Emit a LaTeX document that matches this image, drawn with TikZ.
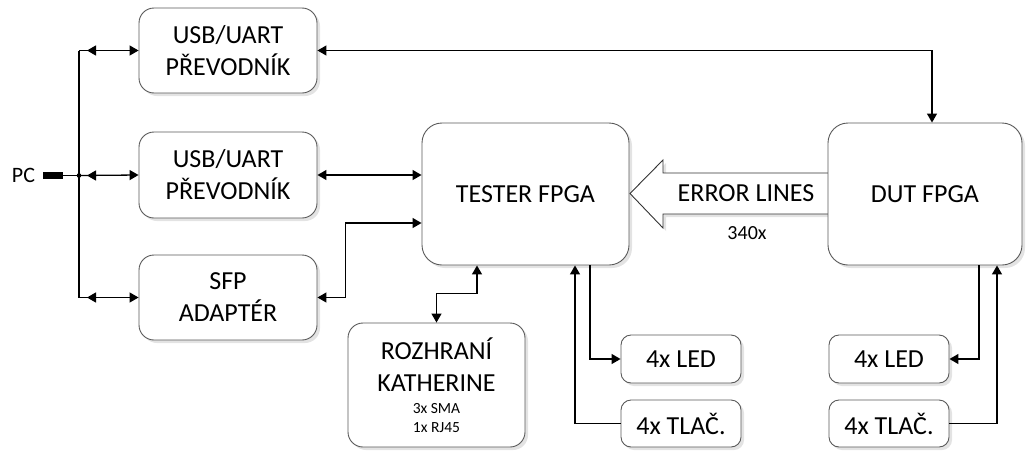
\documentclass[tikz,border=0pt]{standalone}
\usepackage{fontspec}
\setmainfont{Carlito}
\usetikzlibrary{arrows.meta,shadows,calc}
\begin{document}
\begin{tikzpicture}[x=1pt,y=-1pt,
  box/.style={draw=black!65, fill=white, rounded corners=15pt, line width=0.9pt,
    align=center, inner sep=0pt, font=\fontsize{26}{32}\selectfont,
    drop shadow={opacity=0.22, shadow xshift=3pt, shadow yshift=-3pt}},
  bigbox/.style={box, rounded corners=20pt},
  smallbox/.style={box, rounded corners=10pt},
  conn/.style={line width=1.3pt, black},
  >={Triangle[length=9pt,width=10pt]}]
\useasboundingbox (0,0) rectangle (1027,450);

% boxes
\node[box, minimum width=178pt, minimum height=85pt] (usb1) at (228,50.5) {USB/UART\\PŘEVODNÍK};
\node[box, minimum width=178pt, minimum height=86pt] (usb2) at (228,175) {USB/UART\\PŘEVODNÍK};
\node[box, minimum width=178pt, minimum height=85pt] (sfp) at (228,297.5) {SFP\\ADAPTÉR};
\node[bigbox, minimum width=207pt, minimum height=142pt] (tester) at (525.5,194) {TESTER FPGA};

% big arrow (error lines)
\draw[line width=0.9pt, draw=black!80, fill=white,
      drop shadow={opacity=0.22, shadow xshift=3pt, shadow yshift=-3pt}]
  (830,173) -- (663,173) -- (663,160) -- (630,193.5) -- (663,228) -- (663,214) -- (830,214);
\node[font=\fontsize{26}{30}\selectfont] (err) at (746,193.5) {ERROR LINES};
\node[font=\fontsize{20}{24}\selectfont] (cnt) at (747,233) {340x};

\node[bigbox, minimum width=194pt, minimum height=142pt] (dut) at (925,194) {DUT FPGA};

\node[box, minimum width=177pt, minimum height=124pt] (roz) at (436.5,385)
  {ROZHRANÍ\\KATHERINE\\[-10pt]{\fontsize{15.5}{19}\selectfont 3x SMA}\\[-13pt]{\fontsize{15.5}{19}\selectfont 1x RJ45}};
\node[smallbox, minimum width=120pt, minimum height=48pt] (led1) at (681,359) {4x LED};
\node[smallbox, minimum width=120pt, minimum height=47pt] (tl1) at (681,423.5) {4x TLAČ.};
\node[smallbox, minimum width=120pt, minimum height=48pt] (led2) at (889,359) {4x LED};
\node[smallbox, minimum width=120pt, minimum height=47pt] (tl2) at (889,423.5) {4x TLAČ.};

% PC
\node[font=\fontsize{22}{26}\selectfont, inner sep=0pt] (pc) at (23.5,175.5) {PC};
\node[fill=black, minimum width=20pt, minimum height=7pt, inner sep=0pt] (plug) at (53,175.5) {};
\coordinate (bus) at (79,175.5);
\coordinate (busT) at (79,50.5);
\coordinate (busB) at (79,297.5);
\draw[conn] (plug.east) -- (bus);
\fill (bus) circle (2.3pt);
\draw[conn] (busT) -- (busB);

% bus to converters
\draw[conn,->] (busT) -- (usb1.west);
\draw[conn,<-] ($(busT)+(8,0)$) -- ++(12,0);
\draw[conn,->] (bus) -- (usb2.west);
\draw[conn,<-] ($(bus)+(8,0)$) -- ++(12,0);
\draw[conn,->] (busB) -- (sfp.west);
\draw[conn,<-] ($(busB)+(8,0)$) -- ++(12,0);

% converters to FPGAs
\draw[conn,<->] (usb1.east) -| ([xshift=7pt]dut.north);
\draw[conn,<->] (usb2.east) -- (tester.west |- usb2.east);
\draw[conn,<->] (sfp.east) -- ++(28,0) |- ([yshift=-29pt]tester.west);

% tester bottom
\draw[conn,<->] ([xshift=-48.5pt]tester.south) -- ++(0,28) -| (roz.north);
\draw[conn,->] ([xshift=64.5pt]tester.south) |- (led1.west);
\draw[conn,->] (tl1.west) -| ([xshift=49.5pt]tester.south);

% dut bottom
\draw[conn,->] ([xshift=54pt]dut.south) |- (led2.east);
\draw[conn,->] (tl2.east) -| ([xshift=72pt]dut.south);
\end{tikzpicture}
\end{document}
